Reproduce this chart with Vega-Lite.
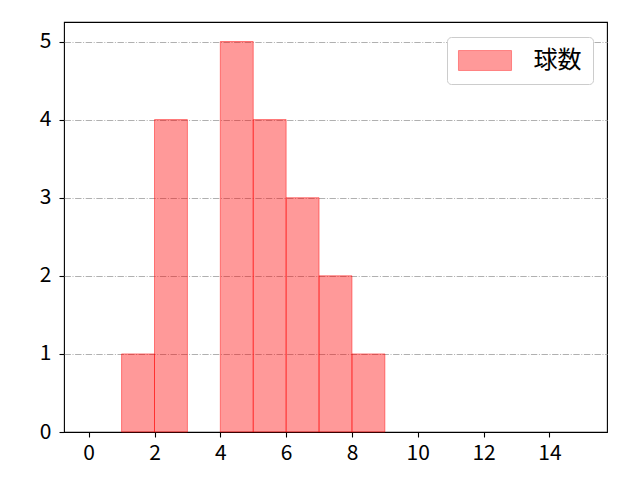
{
  "$schema": "https://vega.github.io/schema/vega-lite/v6.json",
  "autosize": {"type": "none"},
  "padding": {"left": 64, "top": 22, "right": 33, "bottom": 48},
  "width": 543,
  "height": 410,
  "background": "white",
  "config": {
    "view": {"stroke": "black", "strokeWidth": 1.1},
    "font": "Noto Sans CJK JP",
    "axis": {
      "labelFont": "Noto Sans CJK JP",
      "labelFontSize": 21,
      "labelColor": "black",
      "tickColor": "black",
      "tickSize": 5,
      "tickWidth": 1.1,
      "domain": false,
      "title": null
    }
  },
  "data": {
    "values": [
      {"start": 1, "end": 2, "count": 1},
      {"start": 2, "end": 3, "count": 4},
      {"start": 4, "end": 5, "count": 5},
      {"start": 5, "end": 6, "count": 4},
      {"start": 6, "end": 7, "count": 3},
      {"start": 7, "end": 8, "count": 2},
      {"start": 8, "end": 9, "count": 1}
    ]
  },
  "mark": {
    "type": "bar",
    "fill": "red",
    "fillOpacity": 0.4,
    "stroke": "red",
    "strokeOpacity": 0.45,
    "strokeWidth": 1
  },
  "encoding": {
    "x": {
      "field": "start",
      "type": "quantitative",
      "scale": {"domain": [-0.75, 15.75], "nice": false, "zero": false},
      "axis": {"values": [0, 2, 4, 6, 8, 10, 12, 14], "grid": false, "labelPadding": 5}
    },
    "x2": {"field": "end"},
    "y": {
      "field": "count",
      "type": "quantitative",
      "scale": {"domain": [0, 5.25], "nice": false},
      "axis": {
        "values": [0, 1, 2, 3, 4, 5],
        "grid": true,
        "gridColor": "#b0b0b0",
        "gridWidth": 1,
        "gridDash": [6.4, 1.6, 1, 1.6],
        "gridOpacity": {"condition": {"test": "datum.value === 0", "value": 0}, "value": 1},
        "labelPadding": 8
      }
    },
    "y2": {"datum": 0},
    "color": {
      "datum": "球数",
      "type": "nominal",
      "scale": {"range": ["#ff9999"]},
      "legend": {
        "title": null,
        "orient": "none",
        "legendX": 383,
        "legendY": 15,
        "symbolType": "M-2.21,-0.83H2.21V0.83H-2.21Z",
        "symbolSize": 576,
        "symbolOffset": 14.5,
        "symbolFillColor": "#ff9999",
        "symbolStrokeColor": "#ff8080",
        "symbolStrokeWidth": 1,
        "labelFont": "Noto Sans CJK JP",
        "labelFontSize": 24,
        "labelColor": "black",
        "labelOffset": 36,
        "padding": 11,
        "strokeColor": "#cccccc",
        "fillColor": "white",
        "cornerRadius": 4
      }
    }
  }
}
